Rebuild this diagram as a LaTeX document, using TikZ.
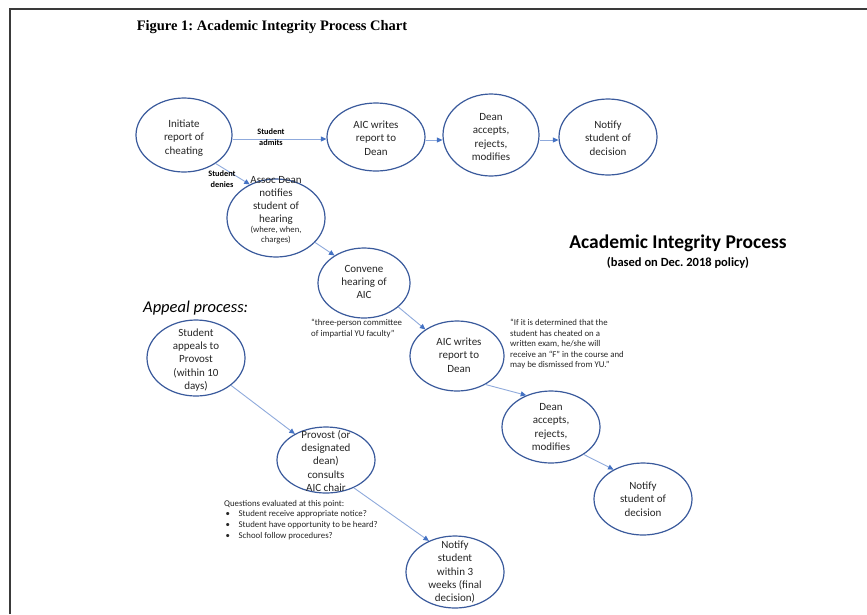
\documentclass[tikz,border=0pt]{standalone}
\usepackage{fontspec}
\setmainfont{Carlito}
\newfontfamily\titlefont{Liberation Serif}
\usetikzlibrary{shapes.geometric,arrows.meta}
\definecolor{ebord}{HTML}{3A5A9C}
\definecolor{aline}{HTML}{8FAADC}
\definecolor{ahead}{HTML}{4472C4}
\definecolor{framec}{HTML}{3A3A3A}
\definecolor{txt}{HTML}{262626}
\frenchspacing
\begin{document}
\begin{tikzpicture}[x=1pt,y=-1pt,
  proc/.style={ellipse, draw=ebord, line width=1.2pt, inner sep=0pt},
  etext/.style={align=center, font=\fontsize{11}{13.3}\selectfont, text=txt, inner sep=0pt},
  small/.style={align=center, font=\fontsize{8.7}{10}\selectfont, text=txt, inner sep=0pt},
  note/.style={align=left, font=\fontsize{8.8}{10.6}\selectfont, text=txt, inner sep=0pt},
  lbl/.style={align=center, font=\bfseries\fontsize{8.3}{10.5}\selectfont, text=black, inner sep=0pt},
  flow/.style={draw=aline, line width=0.9pt, -{Triangle[length=5.5pt,width=5pt,color=ahead]}}
]
\useasboundingbox (0,0) rectangle (867,614);
\fill[white] (0,0) rectangle (867,614);
\draw[framec, line width=1.5pt] (10,614) -- (10,9) -- (867,9);

% title
\node[font=\titlefont\bfseries\fontsize{14.5}{16}\selectfont, inner sep=0pt] (title) at (272,27) {Figure 1: Academic Integrity Process Chart};

% main process ellipses
\node[proc, minimum width=96pt, minimum height=74pt] (init) at (184,135) {};
\node[proc, minimum width=98pt, minimum height=68pt] (aic1) at (376,137) {};
\node[proc, minimum width=96pt, minimum height=82pt] (dean1) at (491,135) {};
\node[proc, minimum width=98pt, minimum height=76pt] (notify1) at (608,137) {};
\node[proc, minimum width=98pt, minimum height=78pt] (assoc) at (276,218) {};
\node[proc, minimum width=92pt, minimum height=70pt] (convene) at (364,283) {};
\node[proc, minimum width=94pt, minimum height=70pt] (aic2) at (457,356) {};
\node[proc, minimum width=98pt, minimum height=72pt] (dean2) at (551,427) {};
\node[proc, minimum width=98pt, minimum height=72pt] (notify2) at (643,499) {};
\node[proc, minimum width=98pt, minimum height=76pt] (appeal) at (196,358) {};
\node[proc, minimum width=98pt, minimum height=66pt] (provost) at (326,460) {};
\node[proc, minimum width=98pt, minimum height=72pt] (notify3) at (455,572) {};

% texts inside
\node[etext] (init-t) at (184,138) {Initiate\\report of\\cheating};
\node[etext] (aic1-t) at (376,138) {AIC writes\\report to\\Dean};
\node[etext] (dean1-t) at (491,137) {Dean\\accepts,\\rejects,\\modifies};
\node[etext] (notify1-t) at (608,138) {Notify\\student of\\decision};
\node[etext, anchor=south] (assoc-t) at (276,225) {Assoc Dean\\notifies\\student of\\hearing};
\node[small, anchor=north] (assoc-s) at (276,226) {(where, when,\\charges)};
\node[etext] (convene-t) at (364,282) {Convene\\hearing of\\AIC};
\node[etext] (aic2-t) at (459,355) {AIC writes\\report to\\Dean};
\node[etext] (dean2-t) at (551,427) {Dean\\accepts,\\rejects,\\modifies};
\node[etext] (notify2-t) at (643,499) {Notify\\student of\\decision};
\node[etext] (appeal-t) at (196,360) {Student\\appeals to\\Provost\\(within 10\\days)};
\node[etext] (provost-t) at (326,461) {Provost (or\\designated\\dean)\\consults\\AIC chair};
\node[etext] (notify3-t) at (455,572) {Notify\\student\\within 3\\weeks (final\\decision)};

% connectors
\draw[flow] ([yshift=-4pt]init.east) -- ([yshift=-2pt]aic1.west);
\draw[flow] ([yshift=-3pt]aic1.east) -- ([yshift=-5pt]dean1.west);
\draw[flow] ([yshift=-5pt]dean1.east) -- ([yshift=-3pt]notify1.west);
\draw[flow] (init.-42) -- (assoc.128);
\draw[flow] (assoc.-32) -- (convene.137);
\draw[flow] (convene.-35) -- (aic2.140);
\draw[flow] (aic2.-45) -- (dean2.128);
\draw[flow] (dean2.-40) -- (notify2.135);
\draw[flow] (appeal.-38) -- (provost.140);
\draw[flow] (provost.-45) -- (notify3.130);

% connector labels
\node[lbl] (admits) at (271,137) {Student\\admits};
\node[lbl] (denies) at (222,179) {Student\\denies};

% headings and notes
\node[font=\bfseries\fontsize{19.5}{22}\selectfont, text=black, inner sep=0pt] (head) at (678,243) {Academic Integrity Process};
\node[font=\bfseries\fontsize{12.5}{14}\selectfont, text=black, inner sep=0pt] (sub) at (678,263) {(based on Dec. 2018 policy)};
\node[font=\itshape\fontsize{16.5}{18}\selectfont, text=black, anchor=west, inner sep=0pt] (appealhead) at (143,308) {Appeal process:};

\node[note, anchor=north west] (committee) at (311,319) {``three-person committee\\of impartial YU faculty''};
\node[note, anchor=north west] (quote) at (510,319) {``If it is determined that the\\student has cheated on a\\written exam, he/she will\\receive an ``F'' in the course and\\may be dismissed from YU.''};
\node[note, anchor=north west] (questions) at (224,500) {Questions evaluated at this point:\\
\hspace*{1.5pt}\makebox[13pt][l]{\textbullet}Student receive appropriate notice?\\
\hspace*{1.5pt}\makebox[13pt][l]{\textbullet}Student have opportunity to be heard?\\
\hspace*{1.5pt}\makebox[13pt][l]{\textbullet}School follow procedures?};
\end{tikzpicture}
\end{document}
